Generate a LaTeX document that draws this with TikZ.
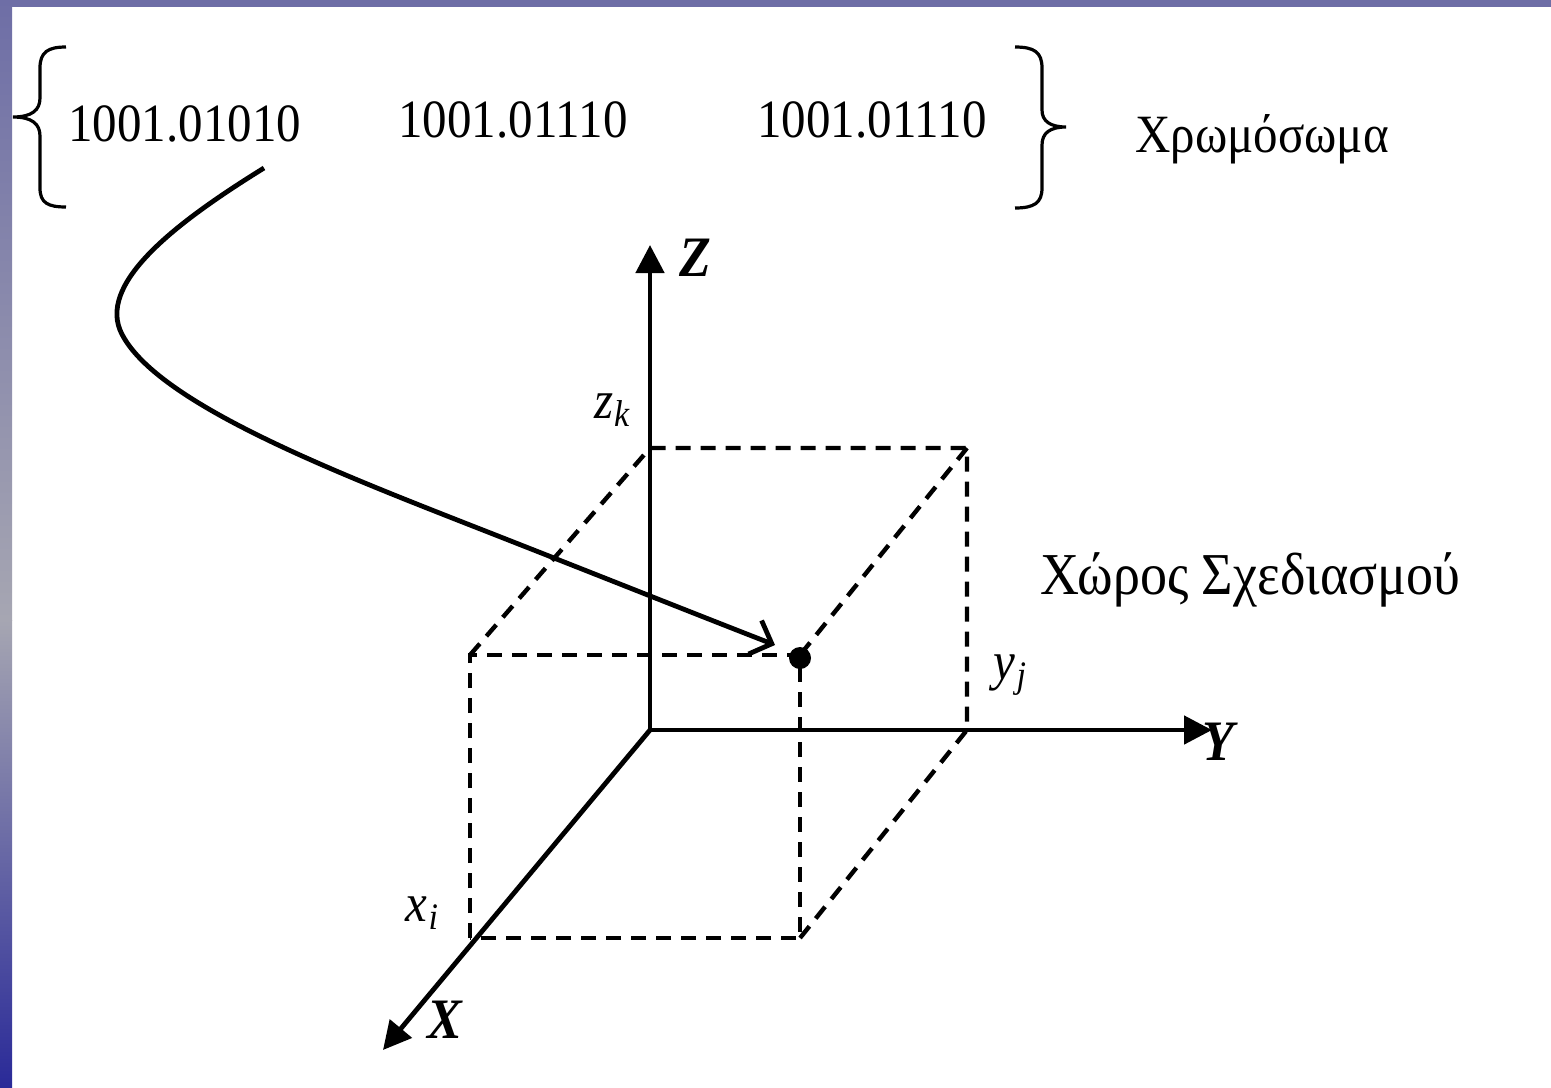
\documentclass[tikz,border=0pt]{standalone}
\usepackage{fontspec}
\setmainfont{Liberation Serif}
\usetikzlibrary{arrows.meta}
\definecolor{barpurple}{HTML}{6E6EA6}
\definecolor{bargray}{HTML}{A6A6B2}
\definecolor{barblue}{HTML}{2A2A98}
\tikzset{
  lbl/.style={font=\fontsize{24.5}{28}\selectfont, inner sep=0pt},
  biglbl/.style={font=\fontsize{27}{30}\selectfont, inner sep=0pt},
  axislbl/.style={font=\fontsize{26}{28}\selectfont\bfseries\itshape, inner sep=0pt},
  axis/.style={line width=2.4pt, -{Triangle[length=14pt,width=14pt]}},
  boxedge/.style={line width=2.2pt, dash pattern=on 7.5pt off 5pt},
  mapcurve/.style={line width=2.4pt, -{Straight Barb[length=9pt,width=18pt,line width=2.4pt]}},
  bracestyle/.style={line width=1.6pt}
}
\newcommand{\tallt}[1]{\scalebox{1}[1.1]{#1}}
\newcommand{\subl}[2]{\tallt{\textit{#1}\kern0.5pt\raisebox{-0.35ex}{\fontsize{17}{17}\selectfont\textit{#2}}}}
\begin{document}
\begin{tikzpicture}[x=0.5pt,y=-0.5pt]
\useasboundingbox (0,0) rectangle (1551,1087);
% frame bars
\fill[barpurple] (0,0) rectangle (1551,7);
\shade[top color=barpurple, bottom color=bargray] (0,0) rectangle (12,620);
\shade[top color=bargray, bottom color=barblue] (0,620) rectangle (12,1087);

% chromosome values
\node[lbl, anchor=base west] (c1) at (68,141) {\tallt{1001.01010}};
\node[lbl, anchor=base west] (c2) at (398,137) {\tallt{1001.01110}};
\node[lbl, anchor=base west] (c3) at (757,137) {\tallt{1001.01110}};
\node[lbl, anchor=base west] (chrom) at (1135,152) {\tallt{Χρωμόσωμα}};
% braces
\draw[bracestyle] (66,47) .. controls (48,47) and (40,52) .. (40,68) -- (40,98)
  .. controls (40,110) and (32,117) .. (13,117) .. controls (32,117) and (40,124) .. (40,136)
  -- (40,188) .. controls (40,203) and (48,207) .. (66,207);
\draw[bracestyle] (1015,47) .. controls (1034,47) and (1042,52) .. (1042,68) -- (1042,110)
  .. controls (1042,121) and (1050,127) .. (1066,127) .. controls (1050,127) and (1042,133) .. (1042,145)
  -- (1042,188) .. controls (1042,203) and (1034,208) .. (1015,208);

% axes
\coordinate (O) at (650,730);
\coordinate (Zt) at (650,245);
\coordinate (Yt) at (1212,730);
\coordinate (Xt) at (383,1050);
\draw[axis] (O) -- (Zt);
\draw[axis] (O) -- (Yt);
\draw[axis] (O) -- (Xt);
\node[axislbl] (zl) at (695,258) {\tallt{Z}};
\node[axislbl] (yl) at (1218,742) {\tallt{Y}};
\node[axislbl] (xl) at (445,1020) {\tallt{X}};

% design space box
\coordinate (A) at (470,655);
\coordinate (B) at (800,655);
\coordinate (C) at (470,938);
\coordinate (D) at (800,938);
\coordinate (E) at (650,448);
\coordinate (F) at (967,448);
\coordinate (G) at (967,730);
\draw[boxedge] (C) -- (A) -- (B) -- (D) -- cycle;
\draw[boxedge] (A) -- (E) -- (F) -- (G) -- (D);
\draw[boxedge] (F) -- (B);
\node[circle, fill=black, inner sep=0pt, minimum size=11pt] (pt) at (800,658) {};

\node[lbl] (zk) at (612,410) {\subl{z}{k}};
\node[lbl] (yj) at (1010,675) {\subl{y}{j}};
\node[lbl] (xi) at (422,913) {\subl{x}{i}};
\node[biglbl, anchor=base west] (space) at (1040,594) {\tallt{Χώρος Σχεδιασμού}};

% mapping curve
\coordinate (cs) at (264,168);
\coordinate (ce) at (775,645);
\draw[mapcurve] (cs) .. controls (180,220) and (100,280) .. (120,330)
  .. controls (150,400) and (330,470) .. (470,525)
  .. controls (580,568) and (680,608) .. (ce);
\end{tikzpicture}
\end{document}
